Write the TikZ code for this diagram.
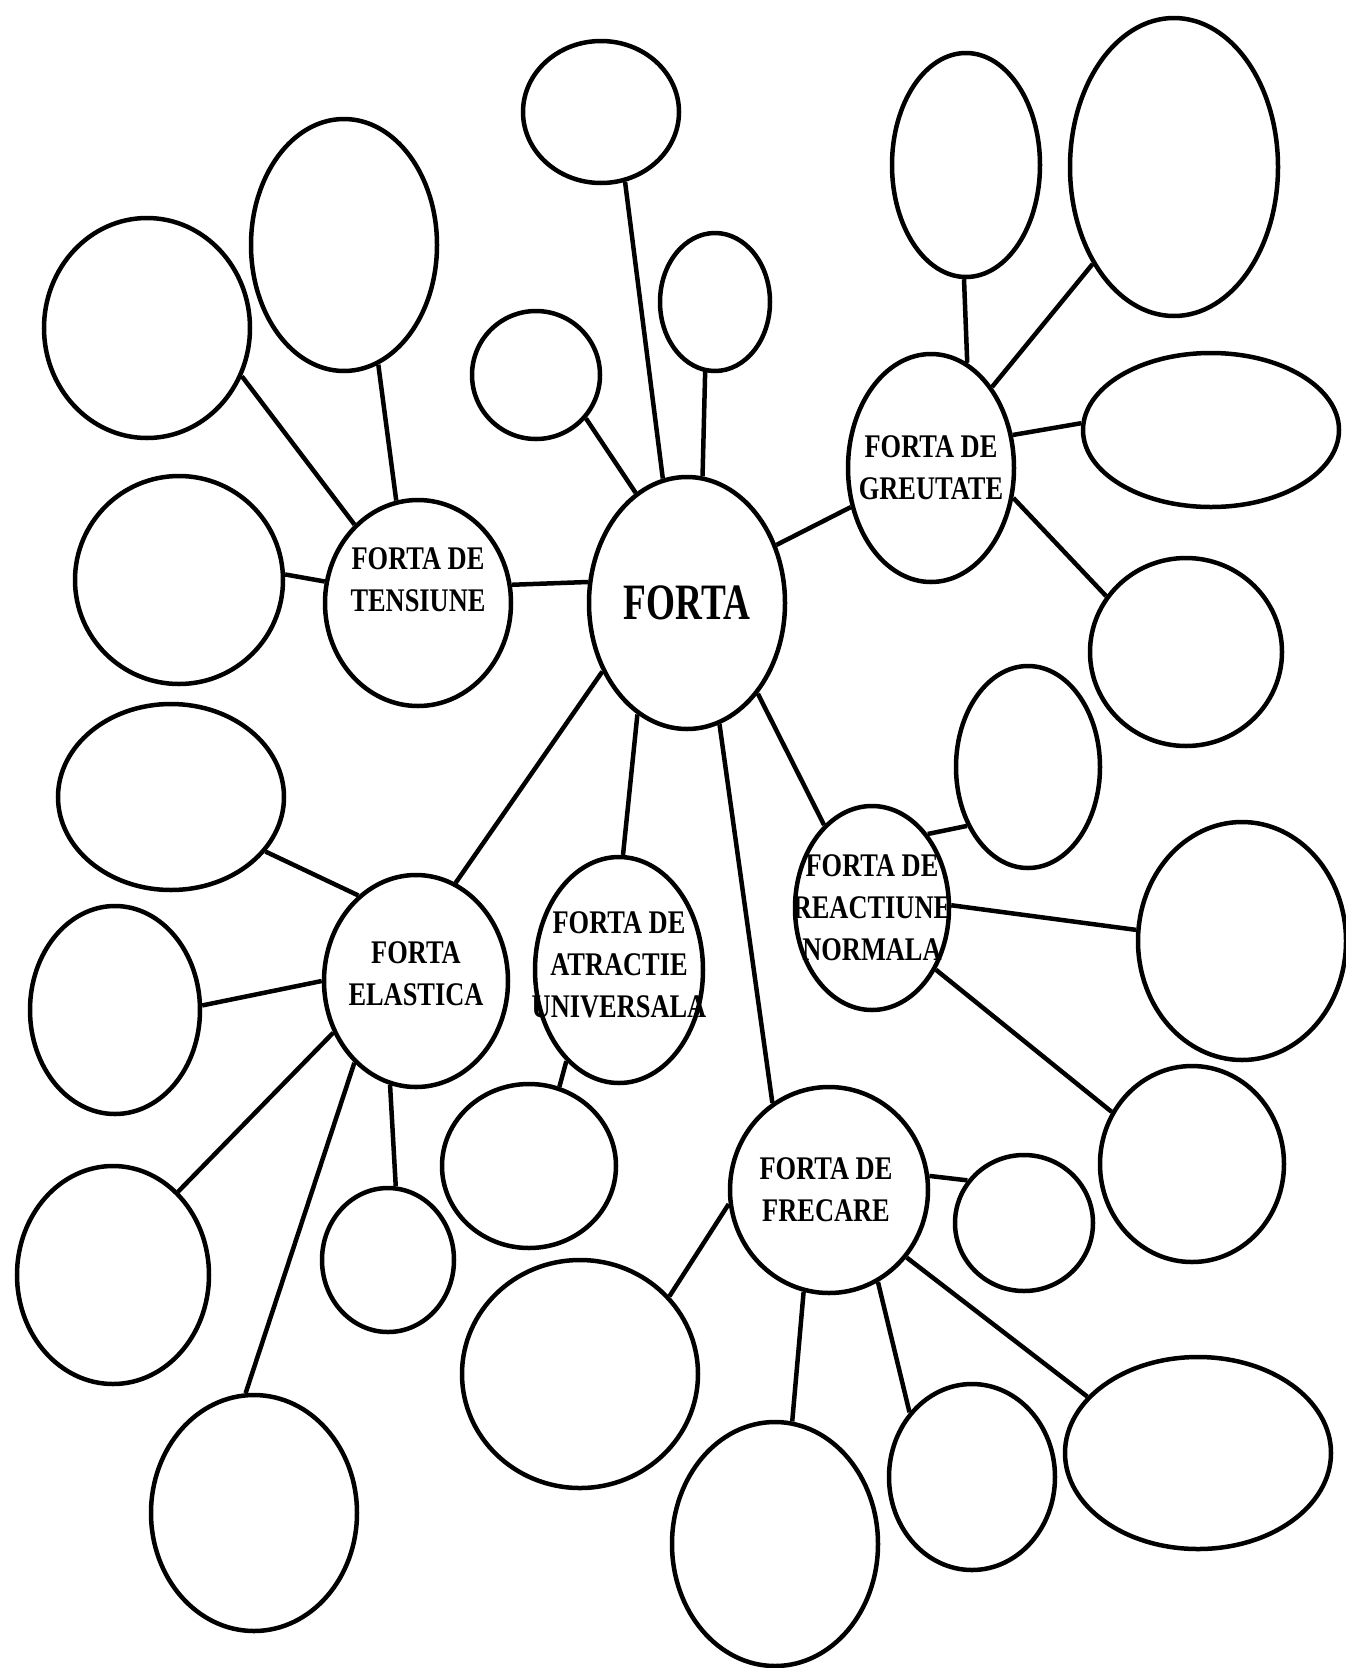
\documentclass[tikz,border=0pt]{standalone}
\usepackage{fontspec}
\newfontfamily\lblfont[FakeStretch=0.8]{Liberation Serif Bold}
\newfontfamily\bigfont[FakeStretch=0.73]{Liberation Serif Bold}
\usetikzlibrary{shapes.geometric}
\tikzset{
  bubble/.style={draw, ellipse, line width=4.5pt, inner sep=0pt},
  wh/.style 2 args={minimum width=#1pt, minimum height=#2pt},
  lbl/.style={align=center, inner sep=0pt, font=\lblfont\fontsize{33}{42}\selectfont},
  link/.style={line width=4.5pt}
}

\begin{document}
\begin{tikzpicture}[x=1pt, y=-1pt]
		\useasboundingbox (0,0) rectangle (1346,1668);

		% main bubbles
		\node[bubble,wh={196}{252},label={[inner sep=0pt,font=\bigfont\fontsize{51}{60}\selectfont]center:FORTA}] (forta) at (687,603) {};
		\node[bubble,wh={166}{228},label={[lbl]center:FORTA DE\\GREUTATE}] (greutate) at (931,468) {};
		\node[bubble,wh={186}{206},label={[lbl,yshift=23pt]center:FORTA DE\\TENSIUNE}] (tensiune) at (418,603) {};
		\node[bubble,wh={184}{212},label={[lbl,yshift=7pt]center:FORTA\\ELASTICA}] (elastica) at (416,981) {};
		\node[bubble,wh={168}{226},label={[lbl,yshift=5pt]center:FORTA DE\\ATRACTIE\\UNIVERSALA}] (atractie) at (619,970) {};
		\node[bubble,wh={198}{206},label={[lbl,xshift=-3pt]center:FORTA DE\\FRECARE}] (frecare) at (829,1190) {};
		\node[bubble,wh={154}{204},label={[lbl]center:FORTA DE\\REACTIUNE\\NORMALA}] (reactiune) at (872,908) {};

		% empty bubbles
		\node[bubble,wh={156}{142}] (f1) at (601,112) {};
		\node[bubble,wh={110}{138}] (f2) at (715,302) {};
		\node[bubble,wh={128}{128}] (f3) at (536,375) {};

		\node[bubble,wh={148}{224}] (g1) at (966,165) {};
		\node[bubble,wh={208}{298}] (g2) at (1174,167) {};
		\node[bubble,wh={256}{154}] (g3) at (1211,430) {};
		\node[bubble,wh={192}{188}] (g4) at (1186,652) {};

		\node[bubble,wh={186}{252}] (t1) at (344,245) {};
		\node[bubble,wh={206}{220}] (t2) at (147,328) {};
		\node[bubble,wh={208}{208}] (t3) at (179,580) {};

		\node[bubble,wh={144}{202}] (r1) at (1028,767) {};
		\node[bubble,wh={208}{238}] (r2) at (1242,941) {};
		\node[bubble,wh={184}{196}] (r3) at (1192,1164) {};

		\node[bubble,wh={226}{186}] (e1) at (171,797) {};
		\node[bubble,wh={170}{208}] (e2) at (115,1010) {};
		\node[bubble,wh={192}{218}] (e3) at (113,1275) {};
		\node[bubble,wh={132}{144}] (e4) at (388,1260) {};
		\node[bubble,wh={206}{236}] (e5) at (254,1513) {};

		\node[bubble,wh={174}{164}] (a1) at (529,1166) {};

		\node[bubble,wh={138}{136}] (fr1) at (1024,1223) {};
		\node[bubble,wh={236}{228}] (fr2) at (580,1374) {};
		\node[bubble,wh={206}{244}] (fr3) at (775,1544) {};
		\node[bubble,wh={166}{186}] (fr4) at (972,1477) {};
		\node[bubble,wh={266}{192}] (fr5) at (1198,1453) {};

		% links from the centre
		\draw[link] (forta.101) -- (f1.-71);
		\draw[link] (forta.83)  -- (f2.-98);
		\draw[link] (forta.115) -- (f3.-41);
		\draw[link] (forta.168) -- (tensiune.11);
		\draw[link] (forta.33)  -- (greutate.206);
		\draw[link] (forta.219) -- (elastica.68);
		\draw[link] (forta.246) -- (atractie.88);
		\draw[link] (forta.285) -- (frecare.123);
		\draw[link] (forta.308) -- (reactiune.120);

		% links from each force
		\draw[link] (tensiune.129) -- (t2.-27);
		\draw[link] (tensiune.102) -- (t1.-74);
		\draw[link] (tensiune.167) -- (t3.3);

		\draw[link] (greutate.71)  -- (g1.-91);
		\draw[link] (greutate.53)  -- (g2.230);
		\draw[link] (greutate.22)  -- (g3.177);
		\draw[link] (greutate.-20) -- (g4.145);

		\draw[link] (reactiune.53)  -- (r1.224);
		\draw[link] (reactiune.2)   -- (r2.174);
		\draw[link] (reactiune.-44) -- (r3.147);

		\draw[link] (elastica.124) -- (e1.-30);
		\draw[link] (elastica.180) -- (e2.3);
		\draw[link] (elastica.212) -- (e3.52);
		\draw[link] (elastica.256) -- (e4.84);
		\draw[link] (elastica.233) -- (e5.94);

		\draw[link] (atractie.240) -- (a1.69);

		\draw[link] (frecare.188) -- (fr2.41);
		\draw[link] (frecare.256) -- (fr3.82);
		\draw[link] (frecare.-62) -- (fr4.134);
		\draw[link] (frecare.-41) -- (fr5.153);
		\draw[link] (frecare.8)   -- (fr1.143);
	\end{tikzpicture}
\end{document}
